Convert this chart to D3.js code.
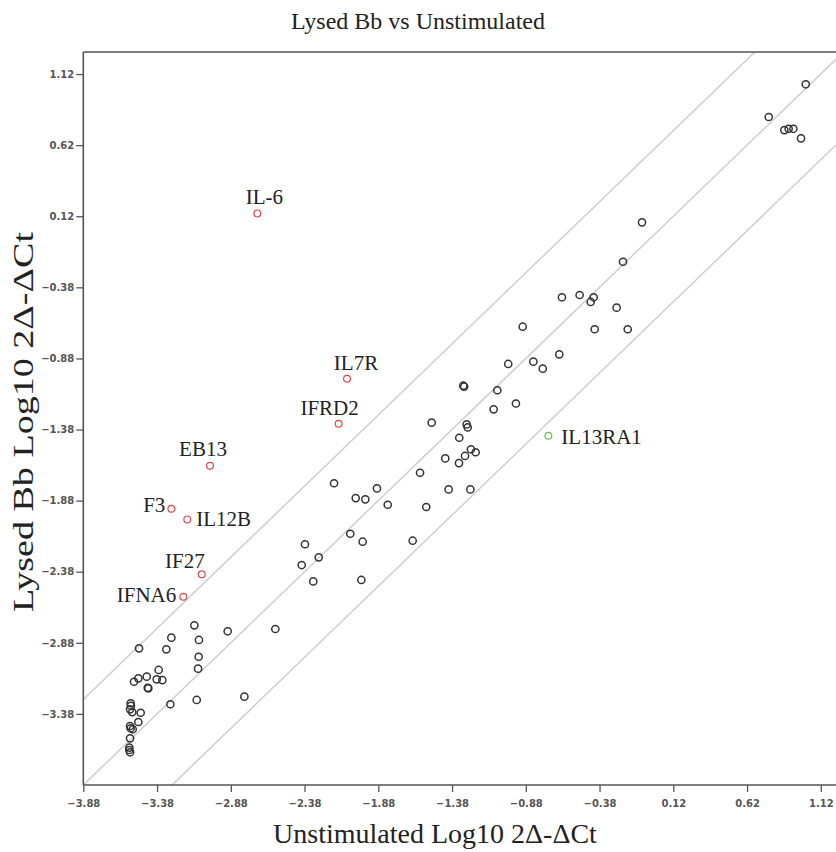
<!DOCTYPE html>
<html>
<head>
<meta charset="utf-8">
<script src="https://cdn.jsdelivr.net/npm/d3@7"></script>
<style>
  html, body { margin: 0; padding: 0; background: #fff; }
  svg { display: block; }
</style>
</head>
<body>
<svg id="chart" width="836" height="852"></svg>
<script>
// Unlabelled genes: Unstimulated (x) vs Lysed Bb (y), log10 2^-ΔCt
const geneX = [
  1.018, 0.767, 0.873, 0.902, 0.934, 0.986,
  -0.092, -0.221, -0.635, -0.515, -0.420, -0.440, -0.264, -0.901, -0.413, -0.189,
  -0.653, -0.829, -0.765, -0.999,
  -1.304, -1.298, -1.073, -0.947, -1.098, -1.518, -1.281, -1.274, -1.331, -1.252,
  -1.220, -1.292, -1.333, -1.426, -1.597, -1.403, -1.256, -1.816, -1.555, -1.647,
  -2.180, -2.033, -1.968, -1.889, -2.070, -1.986, -2.377, -2.284, -2.399, -2.321,
  -1.995, -2.578, -2.901, -3.127, -3.283, -3.096, -3.317, -3.098, -3.102, -3.369,
  -3.344, -3.382, -3.290, -3.111, -2.788,
  -3.502, -3.450, -3.507, -3.536, -3.439, -3.443, -3.559, -3.557, -3.563, -3.548,
  -3.491, -3.507, -3.563, -3.559, -3.545, -3.563, -3.568, -3.568, -3.563
];
const geneY = [
  1.048, 0.818, 0.726, 0.735, 0.735, 0.668,
  0.077, -0.200, -0.450, -0.434, -0.450, -0.483, -0.523, -0.657, -0.675, -0.675,
  -0.851, -0.903, -0.952, -0.919,
  -1.072, -1.078, -1.104, -1.197, -1.238, -1.332, -1.344, -1.365, -1.438, -1.519,
  -1.540, -1.566, -1.616, -1.583, -1.684, -1.801, -1.801, -1.909, -1.925, -2.162,
  -1.758, -1.862, -1.871, -1.794, -2.113, -2.169, -2.187, -2.279, -2.333, -2.448,
  -2.438, -2.783, -2.799, -2.757, -2.844, -2.860, -2.926, -2.978, -3.062, -3.071,
  -3.142, -3.137, -3.312, -3.282, -3.259,
  -2.919, -3.118, -3.130, -3.154, -3.200, -3.196, -3.305, -3.324, -3.348, -3.367,
  -3.372, -3.437, -3.465, -3.481, -3.488, -3.552, -3.617, -3.634, -3.650
];

// Highlighted genes
const hiNames = ["IL-6", "IL7R", "IFRD2", "EB13", "F3", "IL12B", "IF27", "IFNA6", "IL13RA1"];
const hiX = [-2.700, -2.092, -2.149, -3.021, -3.283, -3.175, -3.077, -3.202, -0.727];
const hiY = [0.140, -1.023, -1.339, -1.635, -1.937, -2.012, -2.398, -2.556, -1.424];
const hiGroup = ["up", "up", "up", "up", "up", "up", "up", "up", "down"];

// Axis ticks
const xMajorTicks = [-3.88, -3.38, -2.88, -2.38, -1.88, -1.38, -0.88, -0.38, 0.12, 0.62, 1.12];
const yMajorTicks = [-3.38, -2.88, -2.38, -1.88, -1.38, -0.88, -0.38, 0.12, 0.62, 1.12];
const minorStep = 0.1;

// Fold-change guide lines: y = x + offset (log10 of 4-fold)
const guideOffsets = [0.602, 0, -0.602];

const svg = d3.select("#chart");
const W = 836, H = 852;
const padL = 83.3, padT = 52, padB = 785;
const padR = W + 20;

const x = d3.scaleLinear().domain([-3.88, 1.32]).range([padL, padL + 5.2 * 147.5]);
const y = d3.scaleLinear().domain([-3.88, 1.275]).range([padB, padT]);

const colors = { up: "#e0474c", down: "#6cc24a" };

// Clip region for the plotting area
svg.append("defs").append("clipPath").attr("id", "plotClip")
  .append("rect").attr("x", padL).attr("y", padT)
  .attr("width", padR - padL).attr("height", padB - padT);

// Guide lines
const [x0, x1] = x.domain();
svg.append("g").attr("clip-path", "url(#plotClip)")
  .selectAll("line").data(guideOffsets).join("line")
  .attr("x1", x(x0)).attr("y1", d => y(x0 + d))
  .attr("x2", x(x1)).attr("y2", d => y(x1 + d))
  .attr("stroke", "#cfcfcf").attr("stroke-width", 1.5);

// Minor tick values
const minorTicks = d3.range(-3.88, 1.33, minorStep).map(v => +v.toFixed(2))
  .filter(v => !xMajorTicks.some(m => Math.abs(m - v) < 1e-6));

const tickFont = "DejaVu Sans, Verdana, sans-serif";

// X axis
const gx = svg.append("g").attr("transform", `translate(0,${padB})`);
gx.call(d3.axisBottom(x).tickValues(minorTicks).tickSize(3).tickFormat(""));
gx.call(d3.axisBottom(x).tickValues(xMajorTicks).tickSize(7).tickFormat(d3.format(".2f")));
gx.selectAll(".domain").remove();
gx.selectAll("line").attr("stroke", "#555").attr("stroke-width", 1.3);
gx.selectAll("text").attr("font-family", tickFont).attr("font-size", 10)
  .attr("font-weight", "bold").attr("fill", "#555").attr("dy", "1.15em");

// Y axis
const gy = svg.append("g").attr("transform", `translate(${padL},0)`);
gy.call(d3.axisLeft(y).tickValues(minorTicks.filter(v => v <= 1.27)).tickSize(3).tickFormat(""));
gy.call(d3.axisLeft(y).tickValues(yMajorTicks).tickSize(7).tickFormat(d3.format(".2f")));
gy.selectAll(".domain").remove();
gy.selectAll("line").attr("stroke", "#555").attr("stroke-width", 1.3);
gy.selectAll("text").attr("font-family", tickFont).attr("font-size", 10)
  .attr("font-weight", "bold").attr("fill", "#555").attr("x", -9);

// Frame lines
svg.append("line").attr("x1", padL).attr("x2", padR).attr("y1", padB).attr("y2", padB)
  .attr("stroke", "#555").attr("stroke-width", 1.6);
svg.append("line").attr("x1", padL).attr("x2", padL).attr("y1", padT).attr("y2", padB)
  .attr("stroke", "#555").attr("stroke-width", 1.6);
svg.append("line").attr("x1", padL).attr("x2", padR).attr("y1", padT).attr("y2", padT)
  .attr("stroke", "#555").attr("stroke-width", 1.6);

// Unlabelled genes
svg.append("g").selectAll("circle").data(d3.range(geneX.length)).join("circle")
  .attr("cx", i => x(geneX[i])).attr("cy", i => y(geneY[i])).attr("r", 3.6)
  .attr("fill", "none").attr("stroke", "#333").attr("stroke-width", 1.5);

// Highlighted genes
svg.append("g").selectAll("circle").data(d3.range(hiNames.length)).join("circle")
  .attr("cx", i => x(hiX[i])).attr("cy", i => y(hiY[i])).attr("r", 3.4)
  .attr("fill", "none").attr("stroke", i => colors[hiGroup[i]]).attr("stroke-width", 1.2);

// Label placement relative to each point: [dx, dy, anchor]
const labelPos = {
  "IL-6": [7, -9, "middle"],
  "IL7R": [9, -9, "middle"],
  "IFRD2": [-9, -9, "middle"],
  "EB13": [-7, -10, "middle"],
  "F3": [-6, 3, "end"],
  "IL12B": [9, 7, "start"],
  "IF27": [3, -6, "end"],
  "IFNA6": [-7, 5, "end"],
  "IL13RA1": [13, 8, "start"]
};
const serif = "Liberation Serif, Times New Roman, serif";
svg.append("g").selectAll("text").data(d3.range(hiNames.length)).join("text")
  .attr("x", i => x(hiX[i]) + labelPos[hiNames[i]][0])
  .attr("y", i => y(hiY[i]) + labelPos[hiNames[i]][1])
  .attr("text-anchor", i => labelPos[hiNames[i]][2])
  .attr("font-family", serif).attr("font-size", 21).attr("fill", "#222")
  .text(i => hiNames[i]);

// Titles
svg.append("text").attr("x", 418).attr("y", 29).attr("text-anchor", "middle")
  .attr("font-family", serif).attr("font-size", 24).attr("fill", "#222")
  .text("Lysed Bb vs Unstimulated");
svg.append("text").attr("x", 435).attr("y", 843).attr("text-anchor", "middle")
  .attr("font-family", serif).attr("font-size", 28).attr("fill", "#222")
  .text("Unstimulated Log10 2Δ-ΔCt");
svg.append("text").attr("transform", "translate(33,422) rotate(-90)").attr("text-anchor", "middle")
  .attr("font-family", serif).attr("font-size", 29).attr("fill", "#222")
  .attr("textLength", 380).attr("lengthAdjust", "spacingAndGlyphs")
  .text("Lysed Bb Log10 2Δ-ΔCt");
</script>
</body>
</html>
